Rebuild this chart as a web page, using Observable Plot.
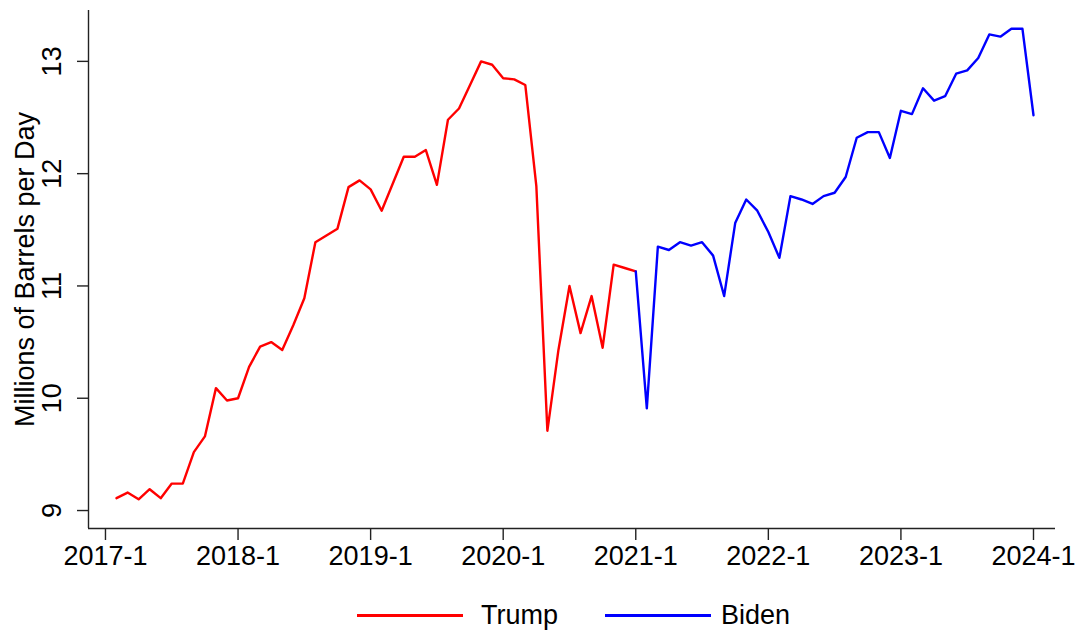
<!DOCTYPE html>
<html>
<head>
<meta charset="utf-8">
<script src="https://cdn.jsdelivr.net/npm/d3@7"></script>
<script src="https://cdn.jsdelivr.net/npm/@observablehq/plot@0.6"></script>
<style>
  html, body { margin: 0; padding: 0; background: #fff; }
  #wrap { position: relative; width: 1076px; height: 632px; overflow: hidden; font-family: "Liberation Sans", Arial, Helvetica, sans-serif; color: #000; }
  #chart { position: absolute; left: 0; top: 0; }
  .leg-line { position: absolute; height: 3px; }
  .leg-text { position: absolute; font-size: 27px; line-height: 27px; }
</style>
</head>
<body>
<div id="wrap">
  <div id="chart"></div>
  <div class="leg-line" style="left:357px; top:614px; width:106px; background:#ff0000;"></div>
  <div class="leg-text" style="left:481px; top:602px;">Trump</div>
  <div class="leg-line" style="left:605px; top:614px; width:106px; background:#0000ff;"></div>
  <div class="leg-text" style="left:721px; top:602px;">Biden</div>
</div>
<script>
// Monthly U.S. crude oil production, millions of barrels per day
const trumpStart = [2017, 2];   // first month of Trump series (year, month)
const trumpValues = [
  9.11, 9.16, 9.10, 9.19, 9.11, 9.24, 9.24, 9.52, 9.66, 10.09, 9.98,
  10.00, 10.28, 10.46, 10.50, 10.43, 10.65, 10.89, 11.39, 11.45, 11.51, 11.88, 11.94,
  11.86, 11.67, 11.91, 12.15, 12.15, 12.21, 11.90, 12.48, 12.58, 12.79, 13.00, 12.97,
  12.85, 12.84, 12.79, 11.89, 9.71, 10.43, 11.00, 10.58, 10.91, 10.45, 11.19, 11.16,
  11.13
];
const bidenStart = [2021, 1];   // first month of Biden series (year, month)
const bidenValues = [
  11.13, 9.91, 11.35, 11.32, 11.39, 11.36, 11.39, 11.27, 10.91, 11.56, 11.77, 11.67,
  11.48, 11.25, 11.80, 11.77, 11.73, 11.80, 11.83, 11.97, 12.32, 12.37, 12.37, 12.14,
  12.56, 12.53, 12.76, 12.65, 12.69, 12.89, 12.92, 13.03, 13.24, 13.22, 13.29, 13.29,
  12.52
];
const xTickYears = [2017, 2018, 2019, 2020, 2021, 2022, 2023, 2024];
const xTickLabels = ["2017-1", "2018-1", "2019-1", "2020-1", "2021-1", "2022-1", "2023-1", "2024-1"];
const yTicks = [9, 10, 11, 12, 13];
const yTitle = "Millions of Barrels per Day";

function toRows(start, values) {
  return values.map((v, i) => {
    const m = start[1] - 1 + i;
    return { t: start[0] + m / 12, v };
  });
}
const trump = toRows(trumpStart, trumpValues);
const biden = toRows(bidenStart, bidenValues);

const xDom = [2016.872, 2024.166];
const yDom = [8.84, 13.453];
const axisColor = "#222";

const chart = Plot.plot({
  width: 1076,
  height: 585,
  marginTop: 10,
  marginBottom: 57,
  marginLeft: 88,
  marginRight: 21,
  x: { domain: xDom },
  y: { domain: yDom },
  style: { fontFamily: "'Liberation Sans', Arial, Helvetica, sans-serif", fontSize: "26px", color: "#000", background: "#fff" },
  marks: [
    Plot.ruleX([xDom[0]], { stroke: axisColor, strokeWidth: 1.4 }),
    Plot.ruleY([yDom[0]], { stroke: axisColor, strokeWidth: 1.4 }),
    Plot.axisX({
      ticks: xTickYears, tickSize: 12, tickPadding: 5, label: null,
      tickFormat: d => xTickLabels[xTickYears.indexOf(d)],
      stroke: axisColor, strokeWidth: 1.4, fontSize: 27
    }),
    Plot.axisY({
      ticks: yTicks, tickSize: 11, label: null, tickFormat: () => "",
      stroke: axisColor, strokeWidth: 1.4
    }),
    Plot.text(yTicks, {
      y: d => d, frameAnchor: "left", text: d => String(d),
      rotate: -90, dx: -28, lineAnchor: "bottom", textAnchor: "middle", fontSize: 27, fill: "#000"
    }),
    Plot.text([yTitle], {
      frameAnchor: "left", text: d => d, rotate: -90, dx: -63,
      lineAnchor: "middle", textAnchor: "middle", fontSize: 27, fill: "#000"
    }),
    Plot.line(trump, { x: "t", y: "v", stroke: "#ff0000", strokeWidth: 2.4 }),
    Plot.line(biden, { x: "t", y: "v", stroke: "#0000ff", strokeWidth: 2.4 })
  ]
});
document.getElementById("chart").appendChild(chart);
</script>
</body>
</html>
